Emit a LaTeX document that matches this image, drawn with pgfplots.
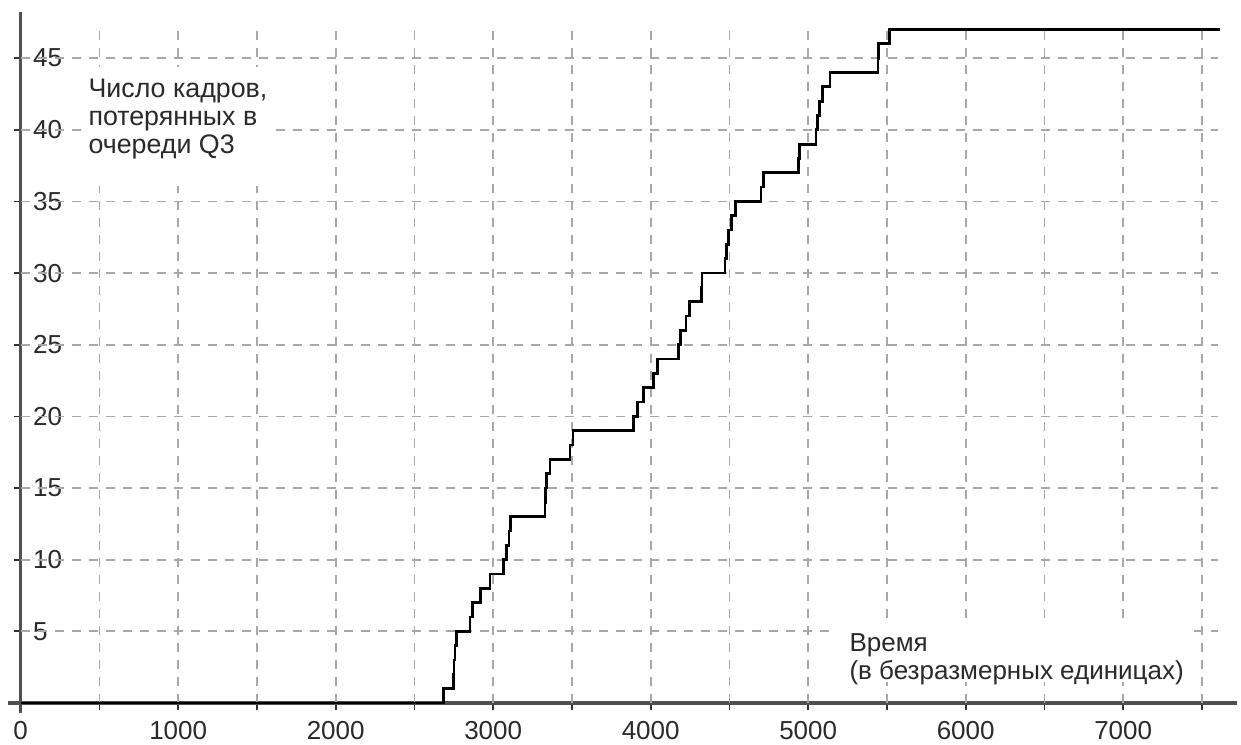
\documentclass[border=0pt]{standalone}
\usepackage{fontspec}
\setmainfont{Liberation Sans}
\usepackage{pgfplots}
\pgfplotsset{compat=1.18}
\definecolor{gridc}{HTML}{A8A8A8}
\definecolor{axc}{HTML}{505050}
\definecolor{txt}{HTML}{2A2A2A}
\begin{document}
\begin{tikzpicture}
\begin{axis}[
 set layers,
 x=0.07875pt, y=7.165pt,
 xmin=-80, xmax=7723, ymin=-0.7, ymax=48.2,
 axis lines=middle,
 hide obscured x ticks=false,
 hide obscured y ticks=false,
 axis line style={-, line width=1.75pt, color=axc},
 xtick={0,500,...,7500},
 xticklabels={0,,1000,,2000,,3000,,4000,,5000,,6000,,7000,},
 ytick={5,10,...,45},
 tick align=center,
 major tick length=7pt,
 tick style={line width=0.9pt, color=black!80},
 tick label style={font=\fontsize{13}{15}\selectfont, text=txt},
 xticklabel style={anchor=north, inner sep=0pt, yshift=-5.5pt},
 yticklabel style={anchor=west, inner sep=1.5pt, xshift=8pt, fill=white},
 /pgf/number format/assume math mode=true,
 clip=false,
]
\pgfplotsinvokeforeach{500,1000,...,7500}{
  \draw[on layer=axis grid, gridc, line width=0.9pt, dash pattern=on 4.5pt off 4pt] (axis cs:#1,0) -- (axis cs:#1,47.3);
}
\pgfplotsinvokeforeach{5,10,...,45}{
  \draw[on layer=axis grid, gridc, line width=0.9pt, dash pattern=on 4.5pt off 4pt] (axis cs:0,#1) -- (axis cs:7600,#1);
}
% white backgrounds of the two captions
\fill[white] (axis cs:380,44.4) rectangle (axis cs:1580,36.1);
\fill[white] (axis cs:5140,5.6) rectangle (axis cs:7430,1.5);
\addplot[const plot, line width=1.35pt, black] coordinates {
(0,0) (2683,1) (2746,2) (2752,3) (2757,4) (2765,5) (2853,6) (2867,7)
(2921,8) (2980,9) (3064,10) (3086,11) (3100,12) (3108,13) (3329,14)
(3334,15) (3340,16) (3361,17) (3487,18) (3507,19) (3890,20) (3915,21)
(3953,22) (4017,23) (4042,24) (4175,25) (4190,26) (4225,27) (4245,28)
(4324,29) (4326,30) (4472,31) (4483,32) (4493,33) (4515,34) (4540,35)
(4700,36) (4715,37) (4937,38) (4945,39) (5050,40) (5058,41) (5070,42)
(5089,43) (5138,44) (5443,45) (5448,46) (5515,47) (7615,47)
};
\node[anchor=north west, align=left, inner sep=0pt, text=txt,
  font=\fontsize{13.4}{14}\selectfont]
  at (axis cs:428,43.55) {Число кадров,\\потерянных в\\очереди Q3};
\node[anchor=north west, align=left, inner sep=0pt, text=txt,
  font=\fontsize{13}{14}\selectfont]
  at (axis cs:5260,4.85) {Время\\(в безразмерных единицах)};
\coordinate (BL) at (axis cs:-131.4,-2.86);
\coordinate (TR) at (axis cs:7748,49.06);
\end{axis}
\pgfresetboundingbox
\path (BL) rectangle (TR);
\end{tikzpicture}
\end{document}
